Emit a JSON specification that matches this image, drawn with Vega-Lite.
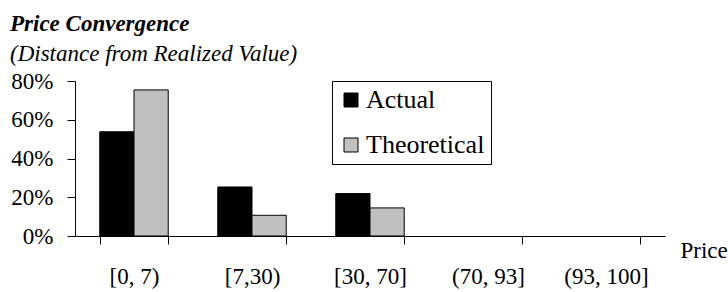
{
  "$schema": "https://vega.github.io/schema/vega-lite/v6.json",
  "autosize": {"type": "none"},
  "width": 590,
  "height": 155,
  "padding": {"left": 75, "top": 81, "right": 63, "bottom": 56},
  "background": "white",
  "title": {
    "text": "Price Convergence",
    "subtitle": "(Distance from Realized Value)",
    "anchor": "start",
    "frame": "group",
    "dx": -65,
    "offset": 4,
    "font": "Liberation Serif",
    "fontSize": 23,
    "fontStyle": "italic",
    "fontWeight": "bold",
    "color": "black",
    "subtitleFont": "Liberation Serif",
    "subtitleFontSize": 23,
    "subtitleFontStyle": "italic",
    "subtitleFontWeight": "normal",
    "subtitleColor": "black",
    "subtitlePadding": 7
  },
  "data": {
    "values": [
      {"range": "[0, 7)", "series": "Actual", "value": 0.538},
      {"range": "[0, 7)", "series": "Theoretical", "value": 0.754},
      {"range": "[7,30)", "series": "Actual", "value": 0.253},
      {"range": "[7,30)", "series": "Theoretical", "value": 0.107},
      {"range": "[30, 70]", "series": "Actual", "value": 0.219},
      {"range": "[30, 70]", "series": "Theoretical", "value": 0.145},
      {"range": "(70, 93]", "series": "Actual", "value": 0},
      {"range": "(70, 93]", "series": "Theoretical", "value": 0},
      {"range": "(93, 100]", "series": "Actual", "value": 0},
      {"range": "(93, 100]", "series": "Theoretical", "value": 0}
    ]
  },
  "mark": {"type": "bar", "stroke": "black"},
  "encoding": {
    "x": {
      "field": "range",
      "type": "nominal",
      "sort": ["[0, 7)", "[7,30)", "[30, 70]", "(70, 93]", "(93, 100]"],
      "scale": {"paddingInner": 0.42, "paddingOuter": 0.21},
      "axis": {
        "title": "Price",
        "titleX": 605,
        "titleY": 21,
        "titleAlign": "left",
        "titleBaseline": "alphabetic",
        "titleFont": "Liberation Serif",
        "titleFontSize": 23,
        "titleFontWeight": "normal",
        "titleColor": "black",
        "labelAngle": 0,
        "labelFont": "Liberation Serif",
        "labelFontSize": 23,
        "labelColor": "black",
        "labelPadding": 21,
        "tickBand": "extent",
        "tickSize": 8,
        "tickColor": "black",
        "domainColor": "black",
        "grid": false
      }
    },
    "xOffset": {
      "field": "series",
      "type": "nominal",
      "sort": ["Actual", "Theoretical"],
      "scale": {"paddingInner": 0, "paddingOuter": 0}
    },
    "y": {
      "field": "value",
      "type": "quantitative",
      "scale": {"domain": [0, 0.8], "nice": false},
      "axis": {
        "title": null,
        "values": [0, 0.2, 0.4, 0.6, 0.8],
        "format": ".0%",
        "labelFont": "Liberation Serif",
        "labelFontSize": 23,
        "labelColor": "black",
        "labelPadding": 14,
        "tickSize": 8,
        "tickColor": "black",
        "domainColor": "black",
        "grid": false
      }
    },
    "strokeWidth": {
      "condition": {"test": "datum.value > 0", "value": 1},
      "value": 0
    },
    "color": {
      "field": "series",
      "type": "nominal",
      "sort": ["Actual", "Theoretical"],
      "scale": {"domain": ["Actual", "Theoretical"], "range": ["#000000", "#C0C0C0"]},
      "legend": {
        "title": null,
        "orient": "none",
        "legendX": 257,
        "legendY": 0,
        "padding": 6,
        "rowPadding": 19,
        "strokeColor": "black",
        "fillColor": "white",
        "symbolType": "square",
        "symbolSize": 196,
        "symbolStrokeColor": "black",
        "symbolStrokeWidth": 1,
        "symbolOpacity": 1,
        "labelFont": "Liberation Serif",
        "labelFontSize": 26,
        "labelColor": "black",
        "labelOffset": 2
      }
    }
  },
  "config": {
    "view": {"stroke": null}
  }
}
